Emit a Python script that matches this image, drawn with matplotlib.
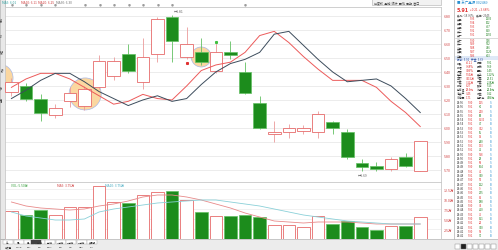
import matplotlib
matplotlib.use("Agg")
import matplotlib.pyplot as plt
from matplotlib.patches import Rectangle, Ellipse
import numpy as np

plt.rcParams['font.family'] = ['Noto Sans CJK SC', 'DejaVu Sans']

# daily candles (price, yuan)
opens  = [6.26, 6.30, 6.21, 6.09, 6.19, 6.16, 6.29, 6.37, 6.53, 6.33, 6.53, 6.79, 6.51, 6.54, 6.41,
          6.54, 6.40, 6.18, 5.96, 5.97, 5.98, 5.97, 6.04, 5.97, 5.75, 5.73, 5.71, 5.79, 5.69]
closes = [6.33, 6.21, 6.11, 6.14, 6.25, 6.28, 6.48, 6.48, 6.41, 6.51, 6.78, 6.62, 6.60, 6.47, 6.54,
          6.52, 6.25, 6.00, 5.97, 6.00, 6.00, 6.10, 6.00, 5.79, 5.72, 5.71, 5.78, 5.73, 5.91]
highs  = [6.36, 6.32, 6.24, 6.17, 6.29, 6.30, 6.52, 6.51, 6.60, 6.64, 6.79, 6.81, 6.72, 6.64, 6.62,
          6.62, 6.47, 6.23, 6.05, 6.03, 6.02, 6.12, 6.05, 5.99, 5.78, 5.76, 5.79, 5.82, 5.91]
lows   = [6.23, 6.19, 6.05, 6.07, 6.15, 6.13, 6.28, 6.34, 6.39, 6.28, 6.47, 6.47, 6.49, 6.45, 6.39,
          6.49, 6.24, 5.99, 5.90, 5.93, 5.96, 5.93, 5.96, 5.78, 5.69, 5.69, 5.69, 5.72, 5.69]
ma5  = [6.29, 6.35, 6.39, 6.39, 6.35, 6.29, 6.23, 6.17, 6.19, 6.24, 6.21, 6.20, 6.30, 6.41, 6.45,
        6.47, 6.54, 6.66, 6.69, 6.61, 6.51, 6.42, 6.34, 6.34, 6.34, 6.29, 6.19, 6.11, 6.01]
ma10 = [6.21, 6.27, 6.34, 6.39, 6.39, 6.33, 6.26, 6.21, 6.16, 6.20, 6.23, 6.19, 6.21, 6.31, 6.40,
        6.46, 6.49, 6.54, 6.67, 6.69, 6.59, 6.49, 6.40, 6.33, 6.34, 6.35, 6.30, 6.21, 6.11]

# volume (10k lots)
volume  = [7.0, 6.0, 7.25, 6.0, 8.0, 8.0, 13.25, 9.25, 9.0, 11.0, 11.75, 12.0, 9.75, 6.75, 5.75,
           5.75, 6.0, 5.5, 3.5, 3.5, 3.0, 5.75, 3.75, 4.5, 3.0, 2.25, 3.25, 3.25, 5.5]
vol_ma5  = [9.25, 8.25, 7.75, 7.5, 7.25, 7.5, 8.25, 8.75, 9.5, 10.5, 11.0, 11.0, 10.5, 9.75, 8.75,
            7.75, 6.5, 5.5, 4.5, 4.25, 4.0, 4.25, 4.25, 4.25, 4.0, 3.75, 3.75, 3.75, 3.75]
vol_ma10 = [6.75, 5.75, 5.25, 4.75, 4.75, 5.0, 6.75, 7.5, 8.0, 8.5, 9.0, 9.25, 9.5, 9.75, 9.75,
            9.25, 8.75, 8.25, 7.5, 6.75, 6.0, 5.5, 5.0, 4.5, 4.25, 4.0, 3.75, 3.75, 3.75]

price_ticks = [6.80, 6.70, 6.60, 6.50, 6.40, 6.30, 6.20, 6.10, 6.00, 5.90, 5.80, 5.70]

W, H = 498, 251
UP = '#e66a6a'
DOWN = '#1c8c1c'
DOWN_EDGE = '#62c062'


def box(x0, y0, x1, y1):
    return [x0 / W, 1 - y1 / H, (x1 - x0) / W, (y1 - y0) / H]


fig = plt.figure(figsize=(W / 100, H / 100), dpi=100)
fig.patch.set_facecolor('white')

# overlay in pixel coords for the frame / side panel
bg = fig.add_axes([0, 0, 1, 1], zorder=0)
bg.set_xlim(0, W)
bg.set_ylim(H, 0)
bg.axis('off')

ax = fig.add_axes(box(5, 8, 441, 183), zorder=1)
axv = fig.add_axes(box(5, 183, 441, 240), zorder=1)

n = len(opens)
x = np.arange(n)
bw = 0.86

for a in (ax, axv):
    a.set_xlim(-0.44, 29.42)
    a.set_xticks([])
    for s in a.spines.values():
        s.set_color('#c8c8c8')
        s.set_linewidth(0.6)
    a.yaxis.tick_right()
    a.tick_params(axis='y', length=0, labelsize=2.6, labelcolor='#d04040', pad=2)

ax.set_ylim(5.614, 6.864)
ax.set_yticks(price_ticks)
ax.set_yticklabels(['%.2f' % p for p in price_ticks])
ax.grid(axis='y', color='#e4e4e4', linewidth=0.5)
ax.set_axisbelow(True)

# highlight circles
for cx, cy, r in [(-0.85, 6.357, 14), (5.05, 6.243, 16), (13.0, 6.507, 10)]:
    ax.add_patch(Ellipse((cx, cy), 2 * r / 14.57, 2 * r / 140, facecolor='#fbd7a0',
                         edgecolor='#a8b8e8', linewidth=0.5, zorder=1))

for i in range(n):
    o, c, h, l = opens[i], closes[i], highs[i], lows[i]
    up = c >= o
    ax.vlines(x[i], l, h, color='#eb9a9a' if up else DOWN_EDGE, linewidth=0.6, zorder=2)
    bot, top = min(o, c), max(o, c)
    hgt = max(top - bot, 0.004)
    if up:
        ax.add_patch(Rectangle((x[i] - bw / 2, bot), bw, hgt, facecolor='white',
                               edgecolor=UP, linewidth=0.6, zorder=3))
    else:
        ax.add_patch(Rectangle((x[i] - bw / 2, bot), bw, hgt, facecolor=DOWN,
                               edgecolor=DOWN_EDGE, linewidth=0.5, zorder=3))

ax.plot(x, ma5, color='#ec5a5a', linewidth=0.7, zorder=4)
ax.plot(x, ma10, color='#3c4c5c', linewidth=0.7, zorder=4)
ax.plot([12.05], [6.464], 's', color='#e03030', markersize=1.2, zorder=5)
ax.plot([14.04], [6.614], 's', color='#40c040', markersize=1.2, zorder=5)
ax.text(11.1, 6.82, '←6.81', fontsize=2.4, color='#606060', va='bottom')
ax.text(23.7, 5.675, '←5.69', fontsize=2.4, color='#606060', va='top')

# volume panel
axv.set_ylim(0, 14.25)
vt = [2.5, 5.0, 7.5, 10.0, 12.5]
axv.set_yticks(vt)
axv.set_yticklabels(['%.1f万' % v for v in vt])
axv.grid(axis='y', color='#ececec', linewidth=0.5)
axv.set_axisbelow(True)
for i in range(n):
    up = closes[i] >= opens[i]
    if up:
        axv.bar(x[i], volume[i], bw, facecolor='white', edgecolor=UP, linewidth=0.6, zorder=2)
    else:
        axv.bar(x[i], volume[i], bw, facecolor=DOWN, edgecolor=DOWN_EDGE, linewidth=0.5, zorder=2)
axv.plot(x, vol_ma5, color='#e88a8a', linewidth=0.6, zorder=3)
axv.plot(x, vol_ma10, color='#8ad0d8', linewidth=0.6, zorder=3)
axv.text(0.0, 13.4, 'VOL: 5.50万', fontsize=2.3, color='#3aa040', va='center')
axv.text(3.1, 13.4, 'MA5: 3.75万', fontsize=2.3, color='#d04040', va='center')
axv.text(6.4, 13.4, 'MA10: 3.75万', fontsize=2.3, color='#40a8c0', va='center')

# header row
bg.text(2, 3.5, 'MA5: 6.01', fontsize=2.3, color='#30a0a0', va='center')
bg.text(21, 3.5, 'MA10: 6.11', fontsize=2.3, color='#d04040', va='center')
bg.text(38, 3.5, 'MA20: 6.25', fontsize=2.3, color='#d04040', va='center')
bg.text(56, 3.5, 'MA30: 6.30', fontsize=2.3, color='#707070', va='center')
for px_ in [12, 26, 41, 55, 85, 100, 114, 129, 143, 158, 172, 245]:
    bg.plot(px_, 5.8, marker='v', color='#909090', markersize=1.0)
bg.add_patch(Rectangle((372, 0), 69, 6, facecolor='#f2f2f2', edgecolor='#b0b0b0', linewidth=0.4))
bg.text(374, 3, '前复权  叠加  统计  画线  周期  窗口', fontsize=2.2, color='#404040', va='center')

# left strip
bg.add_patch(Rectangle((0, 0), 4.5, 240, facecolor='#e8e8e8', edgecolor='#a0a0a0', linewidth=0.4))
for yy, t in [(20, '分时'), (35, 'K线'), (52, '资金'), (70, '板块'), (88, '个股'), (100, '全景')]:
    bg.text(2.2, yy, t, fontsize=1.8, color='#505050', rotation=90, ha='center', va='center')

# right side panel
bg.plot([454, 454], [0, 240], color='#b0b0b0', linewidth=0.5)
bg.add_patch(Rectangle((455, 0), 43, 240, facecolor='white', edgecolor='none'))
bg.text(457, 3.5, '■ 东广鑫源 002489', fontsize=2.5, color='#2a8fd0', va='center')
bg.text(457, 10, '5.91', fontsize=4.2, color='#e03030', va='center', fontweight='bold')
bg.text(470, 10, '+0.21  +3.68%', fontsize=2.2, color='#e03030', va='center')
bg.text(457, 15.5, '委比 -18.36%    委差 -2345', fontsize=2.0, color='#505050', va='center')
book_px = [5.95, 5.94, 5.93, 5.92, 5.91, 5.90, 5.89, 5.88, 5.87, 5.86]
book_vol = [1203, 862, 457, 630, 1255, 938, 512, 746, 1120, 403]
names = ['卖五', '卖四', '卖三', '卖二', '卖一', '买一', '买二', '买三', '买四', '买五']
for k in range(10):
    yy = 19.5 + k * 3.9 + (1.5 if k >= 5 else 0)
    bg.text(457, yy, names[k], fontsize=2.0, color='#303030', va='center')
    bg.text(470, yy, '%.2f' % book_px[k], fontsize=2.0, color='#e03030', va='center')
    bg.text(486, yy, str(book_vol[k]), fontsize=2.0, color='#208020', va='center')
bg.plot([455, 498], [38.6, 38.6], color='#c0c0c0', linewidth=0.4)
bg.add_patch(Rectangle((455, 57), 43, 3.5, facecolor='#dfe9f7', edgecolor='none'))
bg.text(457, 58.8, '最新  5.91   开盘  5.69', fontsize=2.0, color='#3050a0', va='center')
stats = [('涨跌', '+0.21', '最高', '5.91'), ('涨幅', '3.68%', '最低', '5.69'),
         ('振幅', '3.86%', '量比', '1.45'), ('总手', '5.50万', '换手', '1.12%'),
         ('金额', '3215万', '市盈', '23.51'), ('外盘', '3.12万', '内盘', '2.38万'),
         ('涨停', '6.27', '跌停', '5.13'), ('总市值', '28.6亿', '流通', '22.4亿'),
         ('净资产', '3.45', '收益', '0.12'), ('市净率', '1.71', '总股本', '4.84亿')]
for k, (a1, b1, a2, b2) in enumerate(stats):
    yy = 63 + k * 3.9
    bg.text(457, yy, a1, fontsize=2.0, color='#303030', va='center')
    bg.text(466, yy, b1, fontsize=2.0, color='#e03030', va='center')
    bg.text(477, yy, a2, fontsize=2.0, color='#303030', va='center')
    bg.text(487, yy, b2, fontsize=2.0, color='#208020', va='center')
trade_vol = [125, 36, 210, 88, 1530, 47, 312, 65, 19, 240, 133, 72, 508, 28, 96, 164, 41, 380,
             57, 122, 9, 275, 63, 188, 34, 420, 76, 151, 22, 310, 58, 97]
for k, tv in enumerate(trade_vol):
    yy = 103 + k * 4.3
    bg.text(457, yy, '14:%02d' % (56 - k // 2), fontsize=2.0, color='#303030', va='center')
    bg.text(468, yy, '5.91' if k % 3 else '5.90', fontsize=2.0, color='#e03030', va='center')
    bg.text(479, yy, str(tv), fontsize=2.0, color='#208020' if k % 2 else '#e03030', va='center')
    bg.text(490, yy, 'B' if k % 2 else 'S', fontsize=2.0, color='#2a8fd0', va='center')

# bottom tab bar
bg.add_patch(Rectangle((0, 240), W, 11, facecolor='#ececec', edgecolor='#a0a0a0', linewidth=0.4))
tabs = ['日K', '周K', '月K', '1分钟', '5分钟', '15分钟', '30分钟', '60分钟', '多周期']
tx = 3
for t in tabs:
    bg.add_patch(Rectangle((tx, 241.2), 10, 3.8, facecolor='white', edgecolor='#a0a0a0', linewidth=0.3))
    bg.text(tx + 5, 243.1, t, fontsize=1.7, color='#303030', ha='center', va='center')
    tx += 10.5
bg.add_patch(Rectangle((31, 241.2), 10, 3.8, facecolor='#404040', edgecolor='#404040', linewidth=0.3))
sub = ['成交量', 'MACD', 'KDJ', 'RSI', 'BOLL', 'DMI', 'WR', 'OBV', 'CCI']
tx = 3
for t in sub:
    bg.text(tx + 5, 247.8, t, fontsize=1.7, color='#303030', ha='center', va='center')
    tx += 10.5
for k in range(7):
    bg.add_patch(Rectangle((455 + k * 6, 245), 5, 5, facecolor='#202020' if k == 1 else 'white',
                           edgecolor='#808080', linewidth=0.3))

fig.savefig('out.png', dpi=100)
